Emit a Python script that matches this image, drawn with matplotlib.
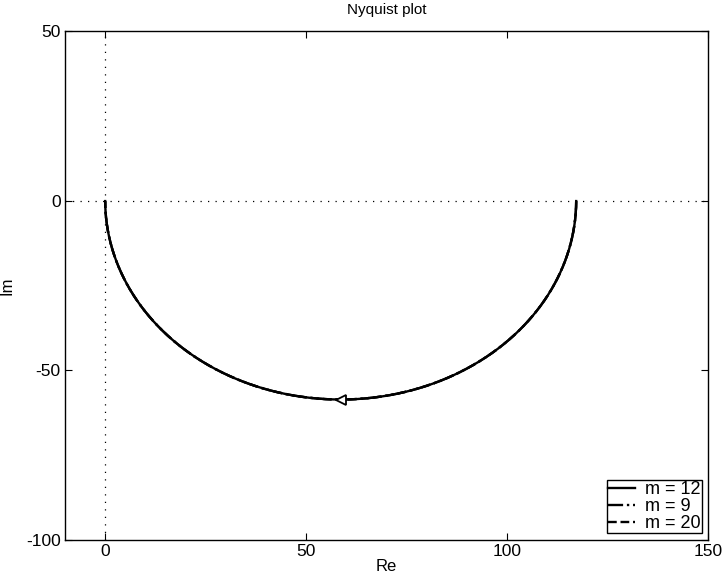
import numpy as np
import matplotlib
matplotlib.use("Agg")
import matplotlib.pyplot as plt

plt.rcParams['font.family'] = ['Liberation Sans', 'DejaVu Sans']
plt.rcParams['axes.unicode_minus'] = False

# First-order lag G(s) = K / (1 + T s) for each m
m_values = [12, 9, 20]
dc_gain = [117.2, 117.2, 117.2]
time_const = [1.0, 1.0, 1.0]
line_styles = ['-', '-.', '--']
legend_labels = ['m = 12', 'm = 9', 'm = 20']

x_ticks = [0, 50, 100, 150]
y_ticks = [-100, -50, 0, 50]

fig = plt.figure(figsize=(7.28, 5.83), dpi=100)
ax = fig.add_axes([65/728, 1 - 540/583, (708-65)/728, (540-31)/583])

w = np.logspace(-3, 3, 2000)
handles = []
for K, T, ls, lab in zip(dc_gain, time_const, line_styles, legend_labels):
    G = K / (1 + 1j * w * T)
    h, = ax.plot(G.real, G.imag, color='black', lw=1.7, ls=ls, label=lab)
    handles.append(h)
# solid curve on top
handles[0].set_zorder(5)

# direction arrow at the bottom of the locus (w = 1/T)
K0, T0 = dc_gain[0], time_const[0]
Ga = K0 / (1 + 1j * (1 / T0))
ax.plot([Ga.real], [Ga.imag], marker='<', ms=7, mfc='white', mec='black',
        mew=1.3, zorder=6)

# zero axes
ax.axhline(0, color='black', ls=(0, (1, 5)), lw=0.9)
ax.axvline(0, color='black', ls=(0, (1, 5)), lw=0.9)

ax.set_xlim(-10, 150)
ax.set_ylim(-100, 50)
ax.set_xticks(x_ticks)
ax.set_yticks(y_ticks)
ax.tick_params(direction='in', top=True, right=True, labelsize=12.5,
               length=5, width=0.8, pad=3)
for s in ax.spines.values():
    s.set_linewidth(1.0)

ax.set_title('Nyquist plot', fontsize=11, pad=12)
ax.set_xlabel('Re', fontsize=12, labelpad=0)
ax.set_ylabel('Im', fontsize=12, labelpad=8)

leg = ax.legend(handles=handles, loc='lower right', fontsize=13,
                frameon=True, fancybox=False, edgecolor='black',
                framealpha=1, borderpad=0.05, labelspacing=0.0,
                handlelength=1.5, handletextpad=0.6, borderaxespad=0,
                bbox_to_anchor=(1 - 6/643, 7/509))
leg.get_frame().set_linewidth(1.0)

fig.savefig('out.png', dpi=100)
